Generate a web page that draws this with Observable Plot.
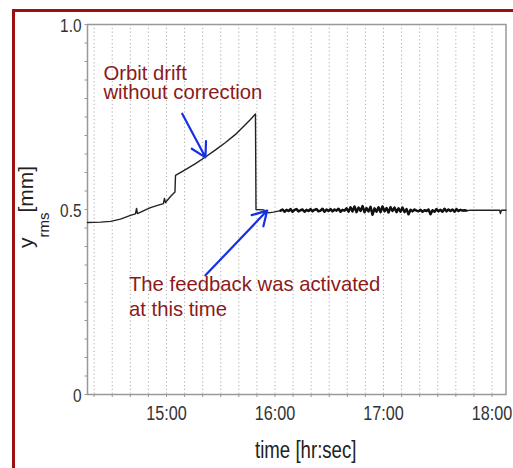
<!DOCTYPE html>
<html>
<head>
<meta charset="utf-8">
<script src="https://cdn.jsdelivr.net/npm/d3@7"></script>
<script src="https://cdn.jsdelivr.net/npm/@observablehq/plot@0.6"></script>
<style>
  html, body { margin: 0; padding: 0; background: #fff; overflow: hidden; width: 513px; height: 468px; }
  #border { position: absolute; left: 12px; top: 9px; width: 600px; height: 600px; border: 3px solid #9b1010; }
  #chart { position: absolute; left: 0; top: 0; }
</style>
</head>
<body>
<div id="border"></div>
<div id="chart"></div>
<script>
// ---- data (time in decimal hours, y_rms in mm) ----
const driftT = [14.272,14.392,14.484,14.576,14.668,14.714,14.724,14.733,14.806,14.853,14.917,14.972,14.981,14.991,15.037,15.078,15.083,15.175,15.267,15.359,15.452,15.544,15.636,15.728,15.774,15.820,15.825,15.894,15.940,15.986];
const driftV = [0.465,0.466,0.468,0.474,0.484,0.488,0.503,0.489,0.499,0.505,0.511,0.516,0.530,0.519,0.535,0.547,0.592,0.608,0.624,0.642,0.661,0.681,0.703,0.730,0.743,0.758,0.500,0.499,0.491,0.493];

const noiseStart = 16.051;
const noiseStep = 0.01843;
const noiseV = [
  0.497,0.500,0.494,0.499,0.496,0.501,0.494,0.499,0.501,0.495,0.498,0.500,0.494,0.499,0.496,0.501,0.495,0.499,0.501,0.495,0.497,0.502,0.494,0.500,0.496,0.501,0.495,0.500,0.497,0.502,0.494,0.499,0.497,
  0.503,0.494,0.506,0.495,0.508,0.493,0.505,0.496,0.509,0.493,0.504,0.495,0.507,0.486,0.503,0.494,0.506,0.493,0.508,0.495,0.504,0.492,0.506,0.496,0.505,0.493,0.503,0.494,0.505,0.493,0.501,0.487,0.499,0.495,0.500,
  0.497,0.495,0.499,0.494,0.498,0.496,0.500,0.487,0.498,0.494,0.501,0.495,0.499,0.494,0.502,0.495,0.500,0.496,0.500,0.494,0.501,0.496,0.499,0.497,0.498,0.497
];

const tailT = [17.802, 18.070, 18.078, 18.086, 18.129];
const tailV = [0.498, 0.498, 0.489, 0.498, 0.498];

const hourTicks = [15, 16, 17, 18];
const hourLabels = ["15:00", "16:00", "17:00", "18:00"];
const yTicks = [0, 0.5, 1];
const yTickLabels = ["0", "0.5", "1.0"];

const xLabel = "time [hr:sec]";
const yLabelMain = "y", yLabelSub = "rms", yLabelUnit = "[mm]";

const noteText = ["Orbit drift", "without correction", "The feedback was activated", "at this time"];
const noteT = [14.419, 14.419, 14.654, 14.654];
const noteV = [0.850, 0.800, 0.280, 0.211];

const arrowT1 = [15.145, 15.359];
const arrowV1 = [0.759, 0.322];
const arrowT2 = [15.359, 15.928];
const arrowV2 = [0.641, 0.497];

// ---- build tables ----
const series = [];
driftT.forEach((t, i) => series.push({t, v: driftV[i]}));
const noise = noiseV.map((v, i) => ({t: noiseStart + i * noiseStep, v}));
noise.forEach(d => series.push(d));
tailT.forEach((t, i) => series.push({t, v: tailV[i]}));

const notes = noteText.map((text, i) => ({text, t: noteT[i], v: noteV[i]}));
const arrows = arrowT1.map((t, i) => ({t1: t, v1: arrowV1[i], t2: arrowT2[i], v2: arrowV2[i]}));

const tenMin = d3.range(14 + 20/60, 18.01, 1/6);
const minorY = d3.range(0, 1.0001, 0.05);

const sans = "'Liberation Sans', Arial, sans-serif";

const chart = Plot.plot({
  width: 513,
  height: 468,
  marginLeft: 87,
  marginRight: 7.5,
  marginTop: 24,
  marginBottom: 74,
  style: {fontFamily: sans, background: "transparent", color: "#333", overflow: "visible"},
  x: {domain: [14.272, 18.129]},
  y: {domain: [0, 1]},
  marks: [
    Plot.gridX(tenMin, {stroke: "#999", strokeOpacity: 0.8, strokeDasharray: "1.2,2.6", strokeWidth: 1}),
    Plot.axisX(tenMin, {tickSize: 3, tickFormat: () => "", label: null, stroke: "#999"}),
    Plot.axisX(hourTicks, {tickSize: 0, tickPadding: 11, tickFormat: d => hourLabels[hourTicks.indexOf(d)], fontSize: 20, fill: "#333", label: null}),
    Plot.axisY(minorY, {tickSize: 2.5, tickFormat: () => "", label: null, stroke: "#999"}),
    Plot.axisY(yTicks, {tickSize: 0, tickPadding: 6, tickFormat: d => yTickLabels[yTicks.indexOf(d)], fontSize: 19, dy: 1.5, fill: "#333", label: null}),
    Plot.frame({stroke: "#999", strokeWidth: 1.5}),
    Plot.line(series, {x: "t", y: "v", stroke: "#222", strokeWidth: 1.4}),
    Plot.line(noise, {x: "t", y: "v", stroke: "#111", strokeWidth: 2.5}),
    Plot.arrow(arrows, {x1: "t1", y1: "v1", x2: "t2", y2: "v2", stroke: "#1530e8", strokeWidth: 2.2, headLength: 11}),
    Plot.text(notes, {x: "t", y: "v", text: "text", textAnchor: "start", lineAnchor: "bottom", fontSize: 20.3, fill: "#8b1a1a"}),
    Plot.text([xLabel], {text: d => d, frameAnchor: "bottom", lineAnchor: "bottom", dy: 63, dx: 9, fontSize: 23, fill: "#222"})
  ]
});

document.getElementById("chart").appendChild(chart);

// condensed look of the axis lettering (squeeze glyphs in place)
d3.select(chart).selectAll("text").each(function() {
  const s = this.textContent;
  if (hourLabels.includes(s) || yTickLabels.includes(s) || s === xLabel) {
    const len = this.getComputedTextLength();
    this.setAttribute("textLength", (len * 0.81).toFixed(2));
    this.setAttribute("lengthAdjust", "spacingAndGlyphs");
  }
});

const yl = d3.select(chart).append("text")
  .attr("transform", "translate(33,248) rotate(-90)")
  .attr("font-family", sans)
  .attr("font-size", 21)
  .attr("fill", "#222")
  .attr("text-anchor", "start");
yl.append("tspan").text(yLabelMain);
yl.append("tspan").attr("font-size", 15).attr("dy", 16).text(yLabelSub);
yl.append("tspan").attr("dy", -16).text(yLabelUnit);
</script>
</body>
</html>
